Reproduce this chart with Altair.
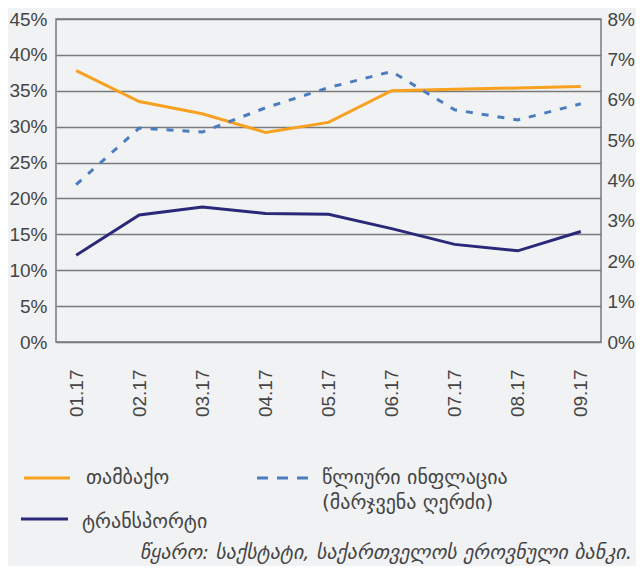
import altair as alt
import pandas as pd

months = ["01.17", "02.17", "03.17", "04.17", "05.17", "06.17", "07.17", "08.17", "09.17"]
tobacco = [37.8, 33.5, 31.8, 29.2, 30.6, 35.0, 35.2, 35.4, 35.6]
transport = [12.1, 17.7, 18.8, 17.9, 17.8, 15.8, 13.6, 12.7, 15.4]
inflation = [3.9, 5.3, 5.2, 5.8, 6.3, 6.7, 5.75, 5.5, 5.9]
left_ticks = list(range(0, 50, 5))
right_ticks = list(range(0, 9))
series_names = ["თამბაქო", "ტრანსპორტი"]
infl_lines = ["წლიური ინფლაცია", "(მარჯვენა ღერძი)"]
source_text = "წყარო: საქსტატი, საქართველოს ეროვნული ბანკი."

ORANGE = "#f7a11f"
NAVY = "#2a2878"
BLUE = "#4a7cc0"
GRID = "#7a7a7a"
TXT = "#454545"
GEO_FONT = "DejaVu Sans"

left_df = pd.DataFrame({
    "month": months * 2,
    "value": tobacco + transport,
    "series": [series_names[0]] * len(months) + [series_names[1]] * len(months),
})
infl_df = pd.DataFrame({"month": months, "value": inflation})

x_enc = alt.X(
    "month:O", sort=months,
    scale=alt.Scale(type="point", padding=0.32),
    axis=alt.Axis(title=None, labelAngle=-90, labelPadding=27, ticks=False,
                  domain=False, labelFontSize=19, labelColor=TXT,
                  labelFont="Liberation Sans", grid=False),
)

left = alt.Chart(left_df).mark_line(strokeWidth=3).encode(
    x=x_enc,
    y=alt.Y("value:Q", scale=alt.Scale(domain=[0, 45], nice=False),
            axis=alt.Axis(title=None, orient="left", values=left_ticks,
                          labelExpr="datum.value + '%'", grid=True,
                          gridColor=GRID, gridWidth=1.5, ticks=False, domain=False,
                          labelPadding=9, labelFontSize=19, labelColor=TXT,
                          labelFont="Liberation Sans")),
    color=alt.Color("series:N", scale=alt.Scale(domain=series_names, range=[ORANGE, NAVY]),
                    legend=None),
)

right = alt.Chart(infl_df).mark_line(strokeWidth=3, strokeDash=[7, 9], color=BLUE).encode(
    x=alt.X("month:O", sort=months),
    y=alt.Y("value:Q", scale=alt.Scale(domain=[0, 8], nice=False),
            axis=alt.Axis(title=None, orient="right", values=right_ticks,
                          labelExpr="datum.value + '%'", grid=False, ticks=False,
                          domain=False, labelPadding=6, labelFontSize=19,
                          labelColor=TXT, labelFont="Liberation Sans")),
)


def rule(x1, x2, y, color, dash=None):
    kw = dict(strokeWidth=3, color=color)
    if dash:
        kw["strokeDash"] = dash
    return alt.Chart(pd.DataFrame({"a": [0]})).mark_rule(**kw).encode(
        x=alt.value(x1), x2=alt.value(x2), y=alt.value(y))


def label(text, x, y, size=20, align="left", italic=False, baseline="middle"):
    kw = dict(align=align, baseline=baseline, fontSize=size, font=GEO_FONT, color=TXT)
    if italic:
        kw["fontStyle"] = "italic"
    return alt.Chart(pd.DataFrame({"t": [text]})).mark_text(**kw).encode(
        text="t:N", x=alt.value(x), y=alt.value(y))


legend_layers = [
    rule(-32, 14, 459, ORANGE),
    label(series_names[0], 30, 459),
    rule(-35, 12, 500, NAVY),
    label(series_names[1], 26, 503),
    rule(201, 252, 459, BLUE, [11, 9]),
    label(infl_lines[0], 266, 459),
    label(infl_lines[1], 266, 484),
    label(source_text, 576, 540, size=20, align="right", italic=True,
          baseline="alphabetic"),
]

chart = alt.layer(left, right, *legend_layers).resolve_scale(y="independent").properties(
    width=545, height=323,
    autosize=alt.AutoSizeParams(type="none"),
    padding={"left": 48, "top": 11, "right": 35, "bottom": 224},
    background="#f1f2f4",
).configure_view(stroke=GRID, strokeWidth=1.5)

chart.save("out.html", embed_options={"renderer": "svg", "actions": False})
